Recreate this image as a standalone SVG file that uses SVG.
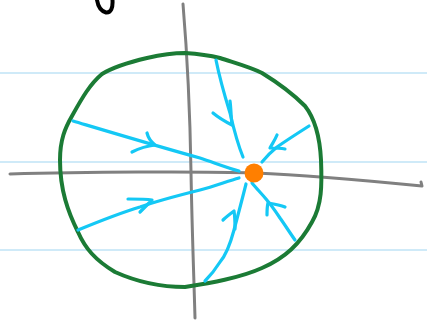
<svg xmlns="http://www.w3.org/2000/svg" width="427" height="321" viewBox="0 0 427 321">
<style>
.rule{stroke:#cfeaf8;stroke-width:2;fill:none}
.axis{stroke:#808080;stroke-width:3;fill:none;stroke-linecap:round;stroke-linejoin:round}
.flow{stroke:#14c8f5;stroke-width:3.2;fill:none;stroke-linecap:round;stroke-linejoin:round}
.arrow{stroke:#14c8f5;stroke-width:3.2;fill:none;stroke-linecap:round;stroke-linejoin:round}
</style>
<rect width="427" height="321" fill="#ffffff"/>
<g id="rules">
<line class="rule" x1="0" y1="73" x2="427" y2="73"/>
<line class="rule" x1="0" y1="162" x2="427" y2="162"/>
<line class="rule" x1="0" y1="250" x2="427" y2="250"/>
</g>
<g id="mark">
<path d="M97,0 C98,6 100,11 106,12.5 C111,13 113,8 112.5,0" stroke="#000" stroke-width="4" fill="none" stroke-linecap="round"/>
</g>
<g id="axes">
<path class="axis" d="M183,4 C186,40 190,110 191,172 C192,230 194,280 195,318"/>
<path class="axis" d="M10,174 C80,172 200,171 255,173 C300,175 360,180 422,186 L421,182"/>
</g>
<g id="circle">
<path d="M185,53 C200,54 212,56 220,58 C235,63 250,67 262,73 C280,84 295,96 305,106 C316,120 320,140 321,160 C322,185 322,205 312,222 C300,244 285,258 262,268 C240,278 210,283 185,287 C160,287 135,281 115,272 C95,260 85,248 78,232 C68,212 60,190 60,160 C60,140 65,128 72,116 C82,98 90,84 102,74 C115,66 130,62 147,58 C160,55 172,53 185,53 Z" stroke="#1b7b35" stroke-width="4" fill="none" stroke-linejoin="round"/>
</g>
<g id="connectors">
<path class="flow" d="M73,121 C110,132 160,147 200,158 C215,163 228,168 239,171"/>
<path class="arrow" d="M147,133 C148,137 150,141 155,145 C146,146 138,149 132,152"/>
<path class="flow" d="M78,230 C100,221 120,213 140,207 C160,200 180,195 200,190 C215,186 228,181 239,178"/>
<path class="arrow" d="M128,199 C136,199 146,199 152,200 C148,204 144,208 140,212"/>
<path class="flow" d="M216,60 C220,80 226,100 230,113 C234,130 238,145 243,157"/>
<path class="arrow" d="M213,113 C219,118 226,122 232,125 C231,117 231,108 230,101"/>
<path class="flow" d="M309,126 C298,133 287,140 277,147 C272,151 267,156 262,162"/>
<path class="arrow" d="M277,135 C275,140 272,144 270,148 C275,148 280,148 285,149"/>
<path class="flow" d="M246,184 C242,200 238,215 234,230 C230,245 226,255 220,262 C215,270 210,276 205,281"/>
<path class="arrow" d="M223,220 C226,217 230,214 234,211 C235,217 235,223 235,229"/>
<path class="flow" d="M252,183 C256,188 261,193 266,199 C272,206 276,212 280,218 C285,225 290,233 295,240"/>
<path class="arrow" d="M267,215 C267,211 267,207 268,203 C274,204 280,205 285,207"/>
</g>
<g id="fixed-point">
<circle cx="254" cy="173" r="9.5" fill="#ff7f00"/>
</g>
</svg>
